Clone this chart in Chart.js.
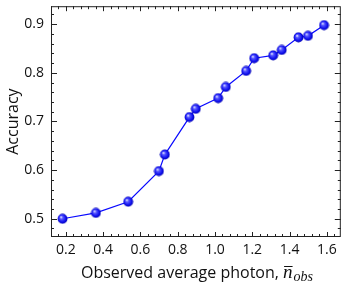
<!DOCTYPE html>
<html><head><meta charset="utf-8">
<script src="https://cdn.jsdelivr.net/npm/chart.js@4"></script>
<style>html,body{margin:0;padding:0;background:#fff}#wrap{width:347px;height:285px}</style>
</head><body><div id="wrap"><canvas id="c" width="347" height="285"></canvas></div>
<script>
const photonX = [0.182, 0.361, 0.534, 0.699, 0.731, 0.863, 0.897, 1.017, 1.058, 1.167, 1.210, 1.312, 1.358, 1.448, 1.499, 1.585];
const accuracyY = [0.500, 0.512, 0.535, 0.598, 0.632, 0.709, 0.726, 0.748, 0.771, 0.804, 0.830, 0.836, 0.847, 0.873, 0.876, 0.898];
const xTickValues = [0.2, 0.4, 0.6, 0.8, 1.0, 1.2, 1.4, 1.6];
const yTickValues = [0.5, 0.6, 0.7, 0.8, 0.9];
const xTitleText = 'Observed average photon, ';
const yTitleText = 'Accuracy';

const FONT = '"Open Sans", "DejaVu Sans", sans-serif';

// sphere marker
const ball = document.createElement('canvas');
ball.width = 11; ball.height = 11;
(function(){
  const g = ball.getContext('2d');
  const grd = g.createRadialGradient(4.0, 3.8, 0.3, 5.5, 5.5, 5.2);
  grd.addColorStop(0, '#e8ecff');
  grd.addColorStop(0.25, '#5a5aff');
  grd.addColorStop(0.7, '#1010f0');
  grd.addColorStop(1, '#0000a8');
  g.fillStyle = grd;
  g.beginPath(); g.arc(5.5, 5.5, 4.9, 0, Math.PI*2); g.fill();
})();

const framePlugin = {
  id: 'frame',
  afterDraw(chart) {
    const ctx = chart.ctx, a = chart.chartArea;
    const xs = chart.scales.x, ys = chart.scales.y;
    ctx.save();
    ctx.strokeStyle = '#222';
    ctx.lineWidth = 1;
    ctx.strokeRect(a.left + 0.5, a.top + 0.5, a.right - a.left - 1, a.bottom - a.top - 1);
    ctx.beginPath();
    for (let i = 3; i <= 42; i++) {
      const v = i * 0.04;
      if (v < xs.min || v > xs.max) continue;
      const major = i % 5 === 0;
      const len = major ? 5 : 3;
      const px = Math.round(xs.getPixelForValue(v)) + 0.5;
      ctx.moveTo(px, a.bottom); ctx.lineTo(px, a.bottom - len);
      ctx.moveTo(px, a.top); ctx.lineTo(px, a.top + len);
    }
    for (let i = 24; i <= 47; i++) {
      const v = i * 0.02;
      if (v < ys.min || v > ys.max) continue;
      const major = i % 5 === 0;
      const len = major ? 6 : 3;
      const py = Math.round(ys.getPixelForValue(v)) + 0.5;
      ctx.moveTo(a.left, py); ctx.lineTo(a.left + len, py);
      ctx.moveTo(a.right, py); ctx.lineTo(a.right - len, py);
    }
    ctx.stroke();

    ctx.fillStyle = '#111';
    ctx.font = '16px ' + FONT;
    ctx.textAlign = 'center';
    ctx.textBaseline = 'middle';
    ctx.save();
    ctx.translate(13, (a.top + a.bottom) / 2);
    ctx.rotate(-Math.PI / 2);
    ctx.fillText(yTitleText, 0, 0);
    ctx.restore();

    ctx.textBaseline = 'alphabetic';
    ctx.textAlign = 'left';
    const mainFont = '16px ' + FONT;
    const nFont = 'italic 19px "Liberation Serif", "DejaVu Serif", serif';
    const subFont = 'italic 14px "Liberation Serif", "DejaVu Serif", serif';
    ctx.font = mainFont; const w1 = ctx.measureText(xTitleText).width;
    ctx.font = nFont; const w2 = ctx.measureText('n').width;
    ctx.font = subFont; const w3 = ctx.measureText('obs').width;
    const total = w1 + w2 + 1 + w3;
    let x0 = 197 - total / 2;
    const base = 278;
    ctx.font = mainFont; ctx.fillText(xTitleText, x0, base);
    x0 += w1;
    ctx.font = nFont; ctx.fillText('n', x0, base);
    ctx.fillRect(x0 + 1, base - 12, w2 - 1, 1);
    x0 += w2 + 1;
    ctx.font = subFont; ctx.fillText('obs', x0, base + 3);
    ctx.restore();
  }
};

new Chart(document.getElementById('c'), {
  type: 'scatter',
  data: {
    datasets: [{
      data: photonX.map((x, i) => ({x, y: accuracyY[i]})),
      showLine: true,
      borderColor: '#0a0aff',
      borderWidth: 1.2,
      pointStyle: ball,
      pointRadius: 5,
      pointHoverRadius: 5
    }]
  },
  options: {
    responsive: false,
    animation: false,
    devicePixelRatio: 1,
    layout: { padding: { top: 4, right: 6, left: 0, bottom: 0 } },
    plugins: { legend: { display: false }, tooltip: { enabled: false } },
    scales: {
      x: {
        type: 'linear', min: 0.12, max: 1.675,
        afterBuildTicks: s => { s.ticks = xTickValues.map(v => ({value: v})); },
        afterFit: s => { s.height = 48; s.paddingLeft = 0; s.paddingRight = 0; },
        grid: { display: false, drawTicks: false },
        border: { display: false },
        ticks: { padding: 5, color: '#111', font: { family: FONT, size: 14 }, maxRotation: 0,
          callback: v => v.toFixed(1) }
      },
      y: {
        type: 'linear', min: 0.4625, max: 0.937,
        afterBuildTicks: s => { s.ticks = yTickValues.map(v => ({value: v})); },
        afterFit: s => { s.width = 51; s.paddingTop = 0; s.paddingBottom = 0; },
        grid: { display: false, drawTicks: false },
        border: { display: false },
        ticks: { padding: 7, color: '#111', font: { family: FONT, size: 14 },
          callback: v => v.toFixed(1) }
      }
    }
  },
  plugins: [framePlugin]
});
</script>
</body></html>
